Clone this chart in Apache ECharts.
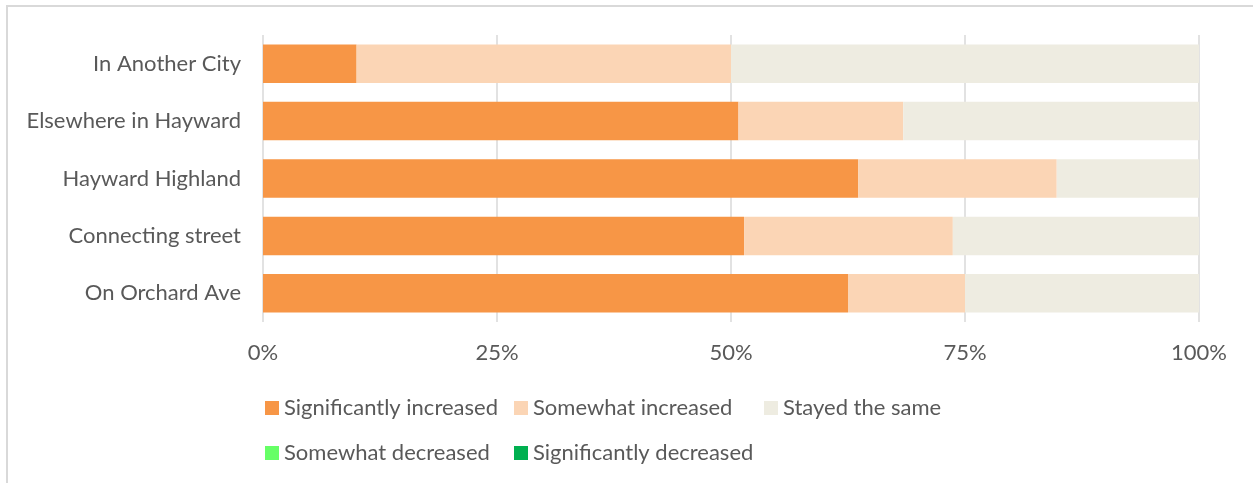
<!DOCTYPE html>
<html><head><meta charset="utf-8">
<script src="https://cdn.jsdelivr.net/npm/echarts@6/dist/echarts.min.js"></script>
<style>html,body{margin:0;padding:0;background:#fff;}#c{width:1253px;height:483px;}
#frame{position:absolute;left:6px;top:5px;width:1260px;height:490px;border-left:2px solid #d9d9d9;border-top:2px solid #d9d9d9;pointer-events:none;}</style>
</head><body><div id="c"></div><div id="frame"></div>
<script>
const categories = ["In Another City", "Elsewhere in Hayward", "Hayward Highland", "Connecting street", "On Orchard Ave"];
const seriesNames = ["Significantly increased", "Somewhat increased", "Stayed the same", "Somewhat decreased", "Significantly decreased"];
const sigInc = [10, 50.8, 63.6, 51.4, 62.5];
const someInc = [40, 17.6, 21.2, 22.3, 12.5];
const stayed = [50, 31.6, 15.2, 26.3, 25];
const someDec = [0, 0, 0, 0, 0];
const sigDec = [0, 0, 0, 0, 0];
const xTicks = [0, 25, 50, 75, 100];

const values = [sigInc, someInc, stayed, someDec, sigDec];
const colors = ["#F79646", "#FBD5B5", "#EEECE1", "#66FF66", "#00B050"];
const font = "Lato";
const txt = "#595959";

const legendPos = [[265, 397], [514, 397], [764, 397], [265, 442], [514, 442]];

const chart = echarts.init(document.getElementById('c'));
chart.setOption({
  animation: false,
  textStyle: {fontFamily: font},
  grid: {left: 263, right: 54, top: 35, height: 287, containLabel: false},
  xAxis: {
    type: 'value', min: xTicks[0], max: xTicks[xTicks.length - 1], interval: 25,
    axisLine: {show: false}, axisTick: {show: false},
    splitLine: {lineStyle: {color: '#d9d9d9', width: 1.5}},
    axisLabel: {formatter: '{value}%', color: txt, fontSize: 22, fontFamily: font, margin: 20}
  },
  yAxis: {
    type: 'category', data: categories, inverse: true,
    axisLine: {show: false}, axisTick: {show: false},
    axisLabel: {color: txt, fontSize: 22, fontFamily: font, margin: 22}
  },
  legend: seriesNames.map((n, i) => ({
    data: [n], left: legendPos[i][0], top: legendPos[i][1],
    itemWidth: 14, itemHeight: 14, itemGap: 0, icon: 'rect', padding: 0,
    textStyle: {color: txt, fontSize: 22, fontFamily: font, padding: [0, 0, 0, 0]}
  })),
  series: seriesNames.map((n, i) => ({
    name: n, type: 'bar', stack: 'total', data: values[i],
    barCategoryGap: '33%',
    itemStyle: {color: colors[i]}
  }))
});
</script></body></html>
